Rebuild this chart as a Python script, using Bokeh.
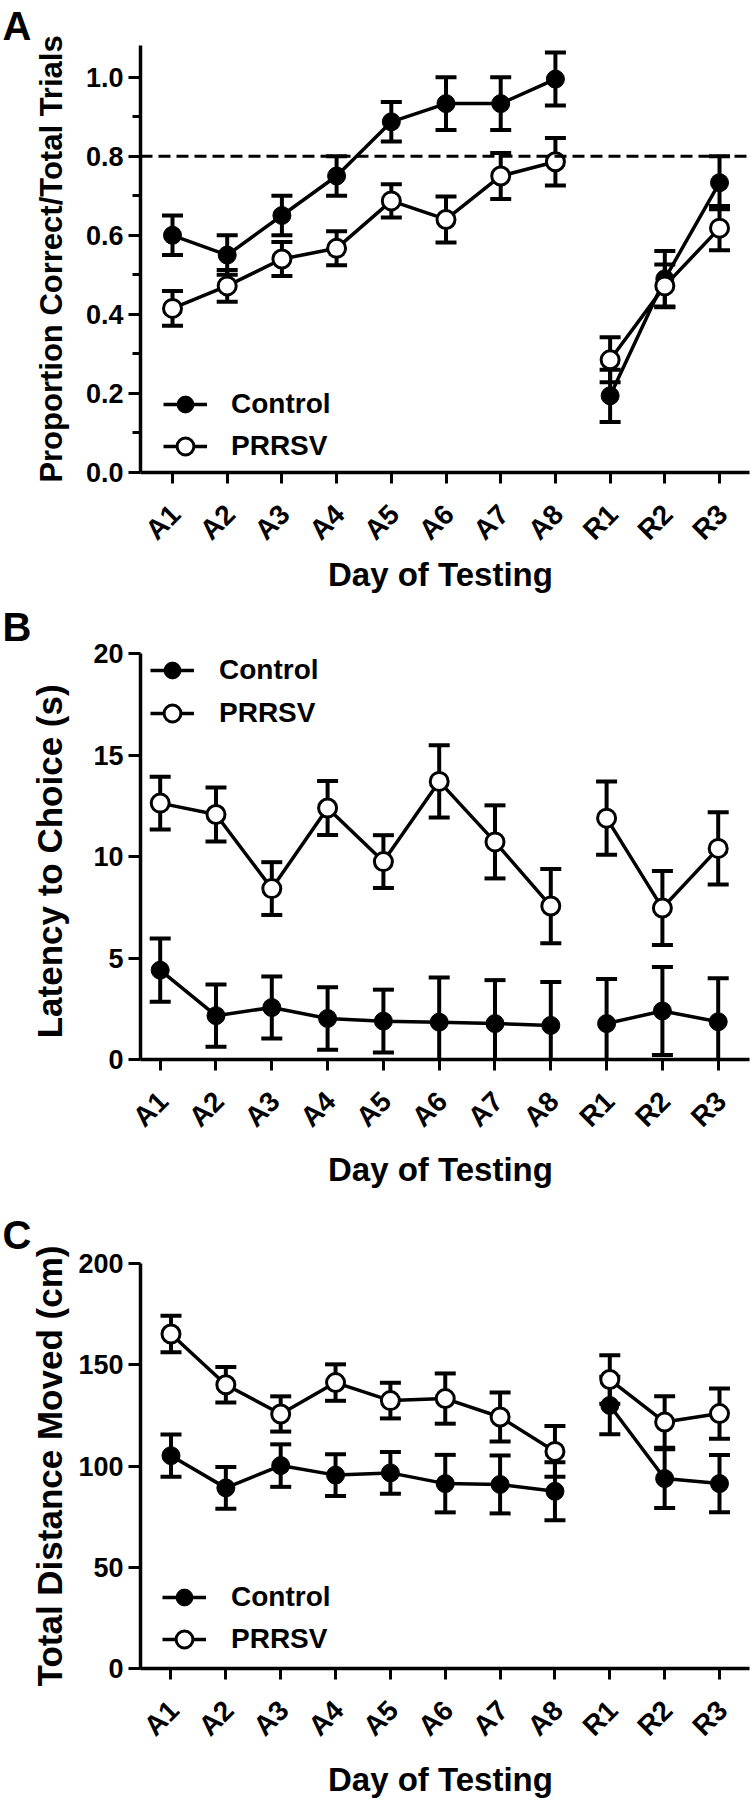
import math
from bokeh.plotting import figure
from bokeh.models import (FixedTicker, Span, Legend, LegendItem, LinearAxis,
                          Range1d, ColumnDataSource)
from bokeh.layouts import column
from bokeh.embed import file_html
from bokeh.resources import INLINE

# ---------------- data ----------------
days = ["A1", "A2", "A3", "A4", "A5", "A6", "A7", "A8", "R1", "R2", "R3"]

# Panel A: proportion correct / total trials (mean, SEM)
ctrl_a = [0.60, 0.55, 0.65, 0.75, 0.887, 0.933, 0.933, 0.995, 0.194, 0.49, 0.733]
ctrl_a_sem = [0.05, 0.05, 0.05, 0.05, 0.05, 0.067, 0.067, 0.067, 0.066, 0.07, 0.067]
prrsv_a = [0.415, 0.472, 0.54, 0.567, 0.687, 0.64, 0.75, 0.786, 0.285, 0.472, 0.618]
prrsv_a_sem = [0.044, 0.04, 0.043, 0.043, 0.042, 0.058, 0.058, 0.06, 0.057, 0.054, 0.056]
criterion_a = 0.8
yticks_a = [0.0, 0.2, 0.4, 0.6, 0.8, 1.0]
yminor_a = [0.1, 0.3, 0.5, 0.7, 0.9]

# Panel B: latency to choice (s)
ctrl_b = [4.4, 2.16, 2.56, 2.02, 1.89, 1.84, 1.77, 1.68, 1.77, 2.39, 1.86]
ctrl_b_sem = [1.56, 1.53, 1.53, 1.54, 1.55, 2.2, 2.14, 2.14, 2.2, 2.17, 2.14]
prrsv_b = [12.63, 12.07, 8.42, 12.39, 9.75, 13.7, 10.72, 7.56, 11.89, 7.46, 10.4]
prrsv_b_sem = [1.3, 1.33, 1.3, 1.33, 1.3, 1.78, 1.8, 1.83, 1.8, 1.82, 1.78]
yticks_b = [0, 5, 10, 15, 20]

# Panel C: total distance moved (cm)
ctrl_c = [105.1, 89.2, 100.2, 95.5, 96.6, 91.3, 90.9, 87.5, 129.9, 93.8, 91.3]
ctrl_c_sem = [10.4, 10.3, 10.5, 10.3, 10.3, 14.2, 14.3, 14.3, 14.2, 14.5, 14.1]
prrsv_c = [165.2, 140.1, 125.7, 141.2, 132.3, 133.3, 124.2, 107.2, 142.7, 121.7, 125.9]
prrsv_c_sem = [9.0, 8.8, 8.7, 9.0, 8.8, 12.4, 12.1, 12.5, 12.0, 12.7, 12.4]
yticks_c = [0, 50, 100, 150, 200]

series_names = ["Control", "PRRSV"]
xlabel = "Day of  Testing"

FONT = "Liberation Sans"
W = 753
BL = 140
BR = 4


def style_text_axis(ax):
    ax.major_label_text_font = FONT
    ax.major_label_text_font_style = "bold"
    ax.major_label_text_color = "black"
    ax.axis_label_text_font = FONT
    ax.axis_label_text_font_style = "bold"
    ax.axis_label_text_color = "black"


def make_panel(letter, ctrl, ctrl_sem, prrsv, prrsv_sem, yticks, yminor, yfmt,
               y_end, ylabel, g):
    H = g["height"]
    fw = W - BL - BR
    p = figure(width=W, height=H, output_backend="svg", toolbar_location=None,
               title=letter,
               x_range=Range1d(g["x0"], g["x1"]), y_range=Range1d(0, y_end),
               min_border_left=BL, min_border_right=BR,
               min_border_top=g["bt"], min_border_bottom=g["bb"])
    p.outline_line_color = None
    p.xgrid.visible = False
    p.ygrid.visible = False
    p.background_fill_color = "white"
    p.border_fill_color = "white"

    # panel letter
    p.title.text_font = FONT
    p.title.text_font_size = "40px"
    p.title.text_font_style = "bold"
    p.title.text_color = "black"
    p.title.align = "left"
    p.title.vertical_align = g["title_va"]
    p.title.offset = 2 - BL
    p.title.standoff = g["title_so"]

    xs = list(range(len(days)))
    sp = fw / (g["x1"] - g["x0"])

    # primary x axis: line + ticks only
    xa = p.xaxis[0]
    xa.ticker = FixedTicker(ticks=xs)
    xa.major_label_overrides = {i: "" for i in xs}
    xa.major_label_text_font_size = "1px"
    xa.major_label_standoff = 0
    # secondary x axis: the rotated day labels (nudged like the original)
    d = 3.0 / sp
    lab_ticks = [i + d for i in xs]
    xa2 = LinearAxis(ticker=FixedTicker(ticks=lab_ticks),
                     major_label_overrides={t: day for t, day in zip(lab_ticks, days)})
    xa2.axis_line_color = None
    xa2.major_tick_line_color = None
    xa2.minor_tick_line_color = None
    xa2.major_tick_out = 0
    xa2.major_tick_in = 0
    xa2.minor_tick_out = 0
    xa2.minor_tick_in = 0
    xa2.major_label_orientation = math.pi / 4
    xa2.major_label_standoff = 26
    style_text_axis(xa2)
    xa2.major_label_text_font_size = "28px"
    xa2.axis_label = xlabel
    xa2.axis_label_text_font_size = "33px"
    xa2.axis_label_standoff = g["xls"]
    p.add_layout(xa2, "below")

    p.yaxis.ticker = FixedTicker(ticks=yticks, minor_ticks=yminor)
    p.yaxis.major_label_overrides = {t: (yfmt % t) for t in yticks}
    for ax in (xa, p.yaxis[0]):
        ax.axis_line_width = 3.5
        ax.axis_line_color = "black"
        ax.major_tick_line_width = 3
        ax.major_tick_line_color = "black"
        ax.minor_tick_line_width = 3
        ax.minor_tick_line_color = "black"
        ax.major_tick_in = 0
        ax.minor_tick_in = 0
        style_text_axis(ax)
    xa.major_tick_out = 11
    xa.minor_tick_out = 0
    yax = p.yaxis[0]
    yax.major_tick_out = 12
    yax.minor_tick_out = 8
    yax.major_label_standoff = 5
    yax.major_label_text_font_size = "27px"
    yax.axis_label = ylabel
    yax.axis_label_text_font_size = g["ylfs"]
    yax.axis_label_standoff = g["yls"]

    items = []
    for name, mean, sem, fill, size, lw in (
            (series_names[0], ctrl, ctrl_sem, "black", 18, 1),
            (series_names[1], prrsv, prrsv_sem, "white", 18, 3)):
        lo = [m - s for m, s in zip(mean, sem)]
        hi = [m + s for m, s in zip(mean, sem)]
        src = ColumnDataSource(dict(x=xs, mean=mean, lo=lo, hi=hi))
        p.segment(x0="x", y0="lo", x1="x", y1="hi", source=src,
                  line_width=4, line_color="black")
        p.scatter("x", "hi", marker="dash", size=21, line_width=4,
                  color="black", source=src)
        p.scatter("x", "lo", marker="dash", size=21, line_width=4,
                  color="black", source=src)
        first_line = None
        for phase in ("A", "R"):
            idx = [i for i, dd in enumerate(days) if dd.startswith(phase)]
            r = p.line([xs[i] for i in idx], [mean[i] for i in idx],
                       line_width=3.5, line_color="black")
            if first_line is None:
                first_line = r
        m = p.scatter("x", "mean", source=src, marker="circle", size=size,
                      fill_color=fill, line_color="black", line_width=lw)
        items.append(LegendItem(label=name, renderers=[first_line, m]))

    legend = Legend(items=items, location=g["leg_loc"], padding=0, margin=0,
                    spacing=g["leg_sp"], glyph_width=44, glyph_height=42,
                    label_standoff=g["leg_so"], label_height=42,
                    border_line_alpha=0, background_fill_alpha=0,
                    label_text_font=FONT, label_text_font_style="bold",
                    label_text_font_size="28px", label_text_color="black")
    p.add_layout(legend)
    return p


gA = dict(height=600, bt=45, bb=128, x0=-0.585, x1=10.548,
          xls=-4, yls=14, ylfs="31px", leg_loc=(23, 5), leg_sp=-3, leg_so=24,
          title_so=-5, title_va="bottom")
gB = dict(height=600, bt=53, bb=141, x0=-0.353, x1=10.561,
          xls=4, yls=21, ylfs="35px", leg_loc=(10, 325), leg_sp=1, leg_so=25,
          title_so=5, title_va="top")
gC = dict(height=600, bt=63, bb=129, x0=-0.556, x1=10.547,
          xls=5, yls=6, ylfs="35px", leg_loc=(22, 8), leg_sp=0, leg_so=25,
          title_so=13, title_va="bottom")

pA = make_panel("A", ctrl_a, ctrl_a_sem, prrsv_a, prrsv_a_sem, yticks_a,
                yminor_a, "%.1f", 1.08, "Proportion Correct/Total Trials", gA)
pA.add_layout(Span(location=criterion_a, dimension="width", line_color="black",
                   line_width=3, line_dash="12 6"))
pB = make_panel("B", ctrl_b, ctrl_b_sem, prrsv_b, prrsv_b_sem, yticks_b,
                [], "%d", 20, "Latency to  Choice (s)", gB)
pC = make_panel("C", ctrl_c, ctrl_c_sem, prrsv_c, prrsv_c_sem, yticks_c,
                [], "%d", 200, "Total Distance Moved (cm)", gC)

layout = column(pA, pB, pC)
open("out.html", "w").write(file_html(layout, INLINE))
